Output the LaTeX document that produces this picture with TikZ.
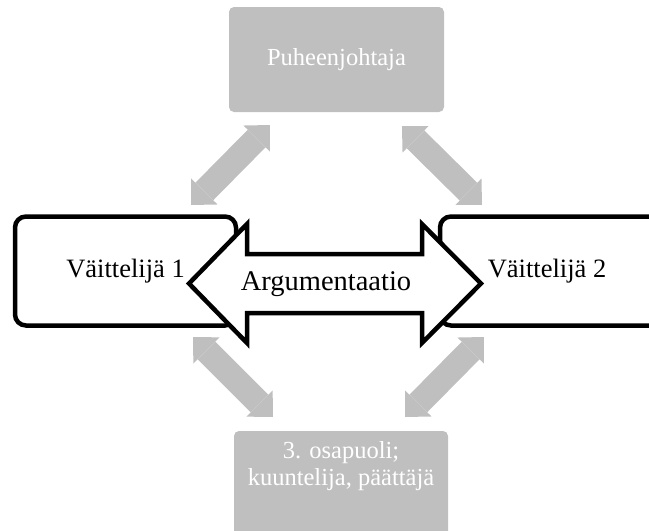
\documentclass[tikz,border=0pt]{standalone}
\usepackage{fontspec}
\setmainfont{Liberation Serif}
\usepackage{tikz}
\usetikzlibrary{calc, arrows.meta, positioning}

\begin{document}
\begin{tikzpicture}[x=1pt, y=-1pt,
        graybox/.style={fill=gray!50, rounded corners=5pt, text=white,
            font=\fontsize{24.5}{27}\selectfont, align=center},
        debater/.style={draw, line width=4.5pt, fill=white, rounded corners=11pt,
            minimum width=221pt, minimum height=109pt,
            font=\fontsize{26.5}{30}\selectfont},
        grayarrow/.style={draw=gray!50, line width=25pt,
            {Triangle[width=37pt, length=19pt, line width=0pt]}-{Triangle[width=37pt, length=19pt, line width=0pt]}}]
            \useasboundingbox (0, 0) rectangle (649, 531);
            \clip (0, 0) rectangle (649, 531);
            \node[graybox, minimum width=215pt, minimum height=105pt] (pj) at (336.5, 59.5) {Puheenjohtaja};
            \node[graybox, minimum width=214pt, minimum height=105pt] (osa) at (341, 483.5) {};
            \node[text=white, font=\fontsize{24.5}{27}\selectfont, align=center] (osatxt) at (341, 466) {3. osapuoli;\\kuuntelija, päättäjä};
            \coordinate (pj-l) at (270, 125);
            \coordinate (v1-t) at (191, 205);
            \coordinate (pj-r) at (402, 126);
            \coordinate (v2-t) at (482, 205);
            \coordinate (v1-b) at (193, 337);
            \coordinate (osa-l) at (273, 417);
            \coordinate (v2-b) at (484, 337);
            \coordinate (osa-r) at (405, 417);
            \draw[grayarrow] (pj-l) -- (v1-t);
            \draw[grayarrow] (pj-r) -- (v2-t);
            \draw[grayarrow] (v1-b) -- (osa-l);
            \draw[grayarrow] (v2-b) -- (osa-r);
            \node[debater] (v1) at (125.5, 271) {Väittelijä 1};
            \node[debater] (v2) at (550.5, 271) {\hspace*{-7pt}Väittelijä 2};
            % argumentation arrow between the debaters
            \draw[line width=4.5pt, fill=white] (189, 283.5) -- (247, 224) -- (247, 254) -- (422, 254)
                -- (422, 224) -- (481, 283.5) -- (422, 343) -- (422, 313) -- (247, 313) -- (247, 343) -- cycle;
            \node[font=\fontsize{28.5}{32}\selectfont] (arg) at (326, 284) {Argumentaatio};
        \end{tikzpicture}
\end{document}
